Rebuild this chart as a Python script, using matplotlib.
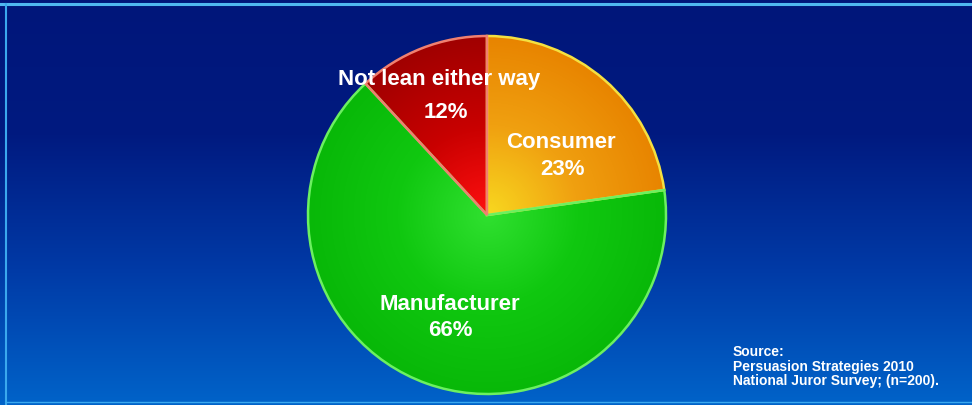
import numpy as np
import matplotlib.pyplot as plt
from matplotlib.colors import LinearSegmentedColormap

# data
labels = ["Consumer", "Manufacturer", "Not lean either way"]
shares = [23, 66, 12]
source_lines = ["Source:", "Persuasion Strategies 2010", "National Juror Survey; (n=200)."]

W, H = 972, 406
fig = plt.figure(figsize=(W / 100, H / 100), dpi=100)
ax = fig.add_axes([0, 0, 1, 1])
ax.set_xlim(0, W)
ax.set_ylim(0, H)
ax.axis("off")

# background: dark navy at top, lighter blue at bottom
bg = LinearSegmentedColormap.from_list("bg", ["#0063c9", "#003aa6", "#001a80", "#00167a"])
grad = np.linspace(0, 1, 256).reshape(-1, 1)
ax.imshow(grad, cmap=bg, extent=[0, W, 0, H], origin="lower", aspect="auto", zorder=0)

# light frame lines
ax.plot([0, W], [H - 5, H - 5], color="#4fb8f0", lw=2.2, zorder=1)
ax.plot([6, 6], [0, H - 5], color="#3aa8ee", lw=1.5, zorder=1)
ax.plot([6, W], [3, 3], color="#3aa8ee", lw=1, zorder=1)

cx, cy, r = 487, 190, 179
wedges, _ = ax.pie(shares, startangle=90, counterclock=False, center=(cx, cy),
                   radius=r, frame=True,
                   colors=["none"] * 3,
                   wedgeprops=dict(linewidth=1.8, zorder=3))
ax.set_xlim(0, W)
ax.set_ylim(0, H)
ax.set_aspect("auto")
ax.axis("off")

edge_cols = ["#f4e040", "#6cf060", "#f08070"]
grads = [["#f8d820", "#f0a010", "#e88400"],
         ["#30e030", "#10c810", "#08b808"],
         ["#ff1010", "#c80000", "#a00000"]]

yy, xx = np.mgrid[0:H, 0:W]
dist = np.sqrt((xx - cx) ** 2 + (yy - cy) ** 2) / r
for w, ec, g in zip(wedges, edge_cols, grads):
    w.set_edgecolor(ec)
    cm = LinearSegmentedColormap.from_list("g", g)
    im = ax.imshow(np.clip(dist, 0, 1), cmap=cm, extent=[0, W, 0, H], origin="lower",
                   aspect="auto", zorder=2, vmin=0, vmax=1)
    im.set_clip_path(w)

fam = ["Liberation Sans", "DejaVu Sans"]
txt = dict(color="white", fontsize=16, fontweight="bold", family=fam,
           ha="center", va="center", zorder=5)
ax.text(561, H - 142, labels[0], **txt)
ax.text(562, H - 170, f"{shares[0]}%", **txt)
ax.text(450, H - 305, labels[1], **txt)
ax.text(450, H - 331, f"{shares[1]}%", **txt)
ax.text(439, H - 80, labels[2], **txt)
ax.text(446, H - 113, f"{shares[2]}%", **txt)

ax.text(733, H - 345, "\n".join(source_lines), color="white", fontsize=10,
        fontweight="bold", family=fam, ha="left", va="top", linespacing=1.05, zorder=5)

fig.savefig("out.png", dpi=100)
